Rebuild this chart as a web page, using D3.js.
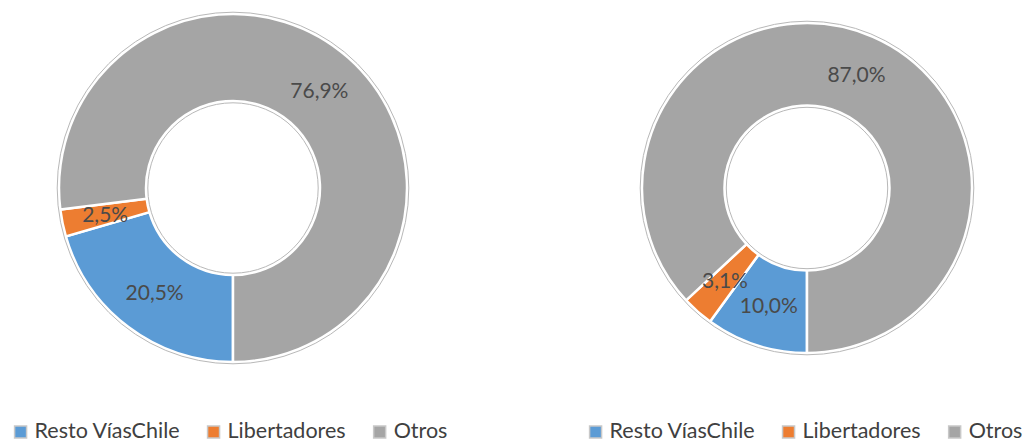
<!DOCTYPE html>
<html>
<head>
<meta charset="utf-8">
<script src="https://cdn.jsdelivr.net/npm/d3@7"></script>
<style>
  body { margin: 0; background: #fff; }
  svg { display: block; }
  text { font-family: Lato, "Open Sans", sans-serif; }
</style>
</head>
<body>
<svg id="chart" width="1029" height="443"></svg>
<script>
const categories = ["Resto VíasChile", "Libertadores", "Otros"];
const leftValues = [20.5, 2.5, 76.9];
const rightValues = [10.0, 3.1, 87.0];
const palette = ["#5B9BD5", "#ED7D31", "#A5A5A5"];

const svg = d3.select("#chart");

const color = d3.scaleOrdinal().domain(categories).range(palette);

// comma as decimal separator
const locale = d3.formatLocale({ decimal: ",", thousands: ".", grouping: [3], currency: ["$", ""] });
const fmt = locale.format(".1f");

// start at 6 o'clock, go clockwise
const pie = d3.pie().sort(null).startAngle(Math.PI).endAngle(3 * Math.PI);

function donut(values, cx, cy, outerR) {
    const innerR = outerR * 0.5;
    const arc = d3.arc().innerRadius(innerR).outerRadius(outerR);
    const labelArc = d3.arc().innerRadius((innerR + outerR) / 2).outerRadius((innerR + outerR) / 2);
    const data = pie(values).map((p, i) => Object.assign(p, { name: categories[i] }));

    const g = svg.append("g").attr("transform", `translate(${cx},${cy})`);

    g.selectAll("path")
        .data(data)
        .enter()
        .append("path")
        .attr("d", arc)
        .attr("fill", d => color(d.name))
        .attr("stroke", "#fff")
        .attr("stroke-width", 2.5);

    // thin grey rims just outside the white edges
    g.append("circle").attr("r", outerR + 1.8)
        .attr("fill", "none").attr("stroke", "#b8b8b8").attr("stroke-width", 1);
    g.append("circle").attr("r", innerR - 1.8)
        .attr("fill", "none").attr("stroke", "#b8b8b8").attr("stroke-width", 1);

    g.selectAll("text.lbl")
        .data(data)
        .enter()
        .append("text")
        .attr("class", "lbl")
        .attr("transform", d => `translate(${labelArc.centroid(d)})`)
        .attr("text-anchor", "middle")
        .attr("dy", "0.35em")
        .attr("fill", "#4a4a4a")
        .style("font-size", "21px")
        .text(d => fmt(d.value) + "%");
}

function legend(cx, y) {
    const g = svg.append("g");
    const items = g.selectAll("g")
        .data(categories)
        .enter()
        .append("g");
    items.append("rect")
        .attr("width", 12).attr("height", 12)
        .attr("y", -12)
        .attr("fill", d => color(d))
        .attr("stroke", "#c8c8c8")
        .attr("stroke-width", 1.5);
    items.append("text")
        .attr("x", 20)
        .attr("fill", "#404040")
        .style("font-size", "21.5px")
        .text(d => d);

    // lay items out side by side, then center the row under the donut
    let x = 0;
    items.each(function () {
        const w = d3.select(this).select("text").node().getComputedTextLength();
        d3.select(this).attr("transform", `translate(${x},0)`);
        x += 20 + w + 28;
    });
    const total = x - 28;
    g.attr("transform", `translate(${cx - total / 2},${y})`);
}

donut(leftValues, 233, 188, 174);
donut(rightValues, 807, 188, 165);

legend(231, 438);
legend(806, 438);
</script>
</body>
</html>
